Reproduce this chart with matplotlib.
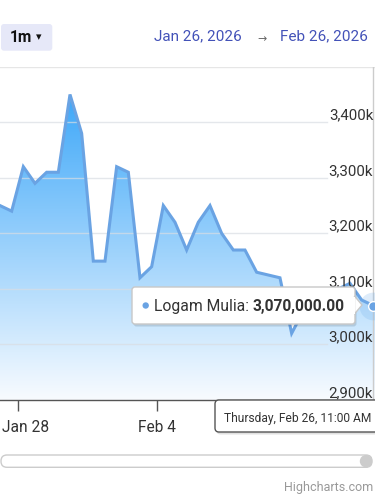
import numpy as np
import matplotlib
matplotlib.use("Agg")
import matplotlib.pyplot as plt
from matplotlib.patches import Polygon, FancyBboxPatch, Circle
from matplotlib.transforms import Affine2D

plt.rcParams['font.family'] = ['Roboto', 'DejaVu Sans']

# ---------------- data ----------------
series_name = "Logam Mulia"
values = [3250, 3240, 3320, 3290, 3310, 3310, 3450, 3380, 3150, 3150,
          3320, 3310, 3120, 3140, 3250, 3220, 3170, 3220, 3250, 3200,
          3170, 3170, 3130, 3125, 3120, 3020, 3060, 3080, 3090, 3100,
          3110, 3080, 3070]
values = [v * 1000 for v in values]
y_ticks = [2900000, 3000000, 3100000, 3200000, 3300000, 3400000, 3500000]
y_tick_labels = ["2,900k", "3,000k", "3,100k", "3,200k", "3,300k", "3,400k", ""]
x_tick_pos = [1.52, 13.43]
x_tick_labels = ["Jan 28", "Feb 4"]
range_label = "1m"
date_from = "Jan 26, 2026"
date_to = "Feb 26, 2026"
hover_value = "3,070,000.00"
hover_date = "Thursday, Feb 26, 11:00 AM"

W, H = 375, 501
fig = plt.figure(figsize=(W / 100, H / 100), dpi=100)
PX = Affine2D().scale(1, -1).translate(0, H)  # pixel coords, y from top

def pt(px):
    return px * 0.72

# ---------------- plot area ----------------
top_px, bot_px = 66.7, 400.0
ax = fig.add_axes([0, 1 - bot_px / H, 1, (bot_px - top_px) / H])
n = len(values)
x = np.arange(n)
xmax = (n - 1) * W / 373.3
ax.set_xlim(0, xmax)
ax.set_ylim(y_ticks[0], y_ticks[-1])
for s in ['top', 'right', 'left']:
    ax.spines[s].set_visible(False)
ax.spines['bottom'].set_color('#555555')
ax.spines['bottom'].set_linewidth(1)
ax.set_yticks([])
ax.set_xticks(x_tick_pos)
ax.set_xticklabels([""] + x_tick_labels[1:], fontsize=pt(15.5), color='#333333')
ax.tick_params(axis='x', length=pt(11), width=1, color='#555555', pad=pt(9))
# first label is pushed inside the chart edge (left aligned)
fig.text(1.7 / W, 1 - 427 / H, x_tick_labels[0], fontsize=pt(15.5), color='#333333',
         ha='left', va='center')
ax.set_facecolor('none')

# gradient area
top_c = np.array([45, 160, 248]) / 255
bot_c = np.array([248, 251, 255]) / 255
t = np.linspace(0, 1, 256)[:, None]
grad = (bot_c[None, :] * (1 - t) + top_c[None, :] * t)[:, None, :]
im = ax.imshow(grad, extent=[0, xmax, y_ticks[0], y_ticks[-1]], origin='lower',
               aspect='auto', zorder=1, interpolation='bilinear')
verts = list(zip(x, values)) + [(x[-1] + 0.2, values[-1]), (x[-1] + 0.2, y_ticks[0]), (0, y_ticks[0])]
poly = Polygon(verts, closed=True, facecolor='none', edgecolor='none', transform=ax.transData)
ax.add_patch(poly)
im.set_clip_path(poly)

# gridlines (visible through the fill)
for v in y_ticks[1:-1]:
    ax.axhline(v, xmin=0, xmax=327 / W, color='#d9dde3', lw=1, alpha=0.7, zorder=2)
ax.axhline(y_ticks[-1], color='#e6e6e6', lw=1, zorder=2)

ax.plot(list(x) + [x[-1] + 0.2], values + [values[-1] - 3000], color='#6aa3e3', lw=2.2,
        solid_joinstyle='miter', zorder=3)

# crosshair and marker
ax.axvline(x[-1], color='#cccccc', lw=1, zorder=2)
ax.plot([x[-1]], [values[-1]], 'o', ms=20, color='#7cb5ec', alpha=0.25, zorder=4, mec='none')
ax.plot([x[-1]], [values[-1]], 'o', ms=7, color='#6aa3e3', mec='white', mew=1, zorder=5)

# y labels inside plot, right aligned above gridlines
for v, lab in zip(y_ticks, y_tick_labels):
    if lab:
        ax.text(0.995, v, lab, transform=ax.get_yaxis_transform(), ha='right', va='bottom',
                fontsize=pt(15), color='#333333', zorder=6)

# ---------------- tooltip ----------------
def box(x0, y0, w, h, r, ec='#c8c8c8', z=10):
    sh = FancyBboxPatch((x0 + 1.5, y0 + 2.5), w, h, boxstyle=f"round,pad=0,rounding_size={r}",
                        transform=PX, facecolor='black', edgecolor='none', alpha=0.12, zorder=z - 1)
    fig.add_artist(sh)
    b = FancyBboxPatch((x0, y0), w, h, boxstyle=f"round,pad=0,rounding_size={r}",
                       transform=PX, facecolor='white', edgecolor=ec, lw=1, zorder=z)
    fig.add_artist(b)

box(132, 287, 223, 37, 3)
arrow = Polygon([(354.5, 296), (362, 305), (354.5, 314)], closed=True, transform=PX,
                facecolor='white', edgecolor='#c8c8c8', lw=1, zorder=11)
fig.add_artist(arrow)
fig.add_artist(Polygon([(353, 296.5), (355.3, 296.5), (355.3, 313.5), (353, 313.5)], closed=True,
                       transform=PX, facecolor='white', edgecolor='none', zorder=12))
fig.add_artist(Circle((145.7, 305.5), 3.2, transform=PX, facecolor='#6aa3e3', edgecolor='none', zorder=12))
fig.text(154.3 / W, 1 - 306 / H, series_name + ":", fontsize=pt(15.8), color='#333333',
         va='center', ha='left', zorder=13)
fig.text(252.7 / W, 1 - 306 / H, hover_value, fontsize=pt(15.5), color='#333333',
         va='center', ha='left', fontweight='bold', zorder=13)

box(215, 400, 175, 32, 4, ec='#555555')
fig.text(224 / W, 1 - 418.5 / H, hover_date, fontsize=pt(12), color='#333333',
         va='center', ha='left', zorder=13)

# ---------------- header ----------------
fig.add_artist(FancyBboxPatch((1, 24), 51.3, 26.7, boxstyle="round,pad=0,rounding_size=3",
                              transform=PX, facecolor='#e6e8f8', edgecolor='none', zorder=1))
fig.text(10 / W, 1 - 37.5 / H, range_label, fontsize=pt(15.5), fontweight='bold', color='#111111',
         va='center', ha='left', zorder=5)
fig.text(38.3 / W, 1 - 37 / H, "▾", fontsize=pt(11), color='#111111', va='center', ha='center',
         family=['DejaVu Sans'], zorder=5)
fig.text(154.3 / W, 1 - 36.5 / H, date_from, fontsize=pt(15.3), color='#4352b8', va='center', ha='left')
fig.text(262 / W, 1 - 39 / H, "→", fontsize=pt(11), color='#666666', va='center', ha='center',
         family=['DejaVu Sans'])
fig.text(368.3 / W, 1 - 36.5 / H, date_to, fontsize=pt(15.3), color='#4352b8', va='center', ha='right')

# ---------------- scrollbar / credits ----------------
fig.add_artist(FancyBboxPatch((1, 455), 371, 12.3, boxstyle="round,pad=0,rounding_size=6",
                              transform=PX, facecolor='white', edgecolor='#cccccc', lw=1))
fig.add_artist(Circle((366, 461.2), 6.2, transform=PX, facecolor='#cccccc', edgecolor='none'))
fig.text(373 / W, 1 - 488 / H, "Highcharts.com", fontsize=pt(12.5), color='#999999',
         va='center', ha='right')

fig.savefig("out.png", dpi=100)
